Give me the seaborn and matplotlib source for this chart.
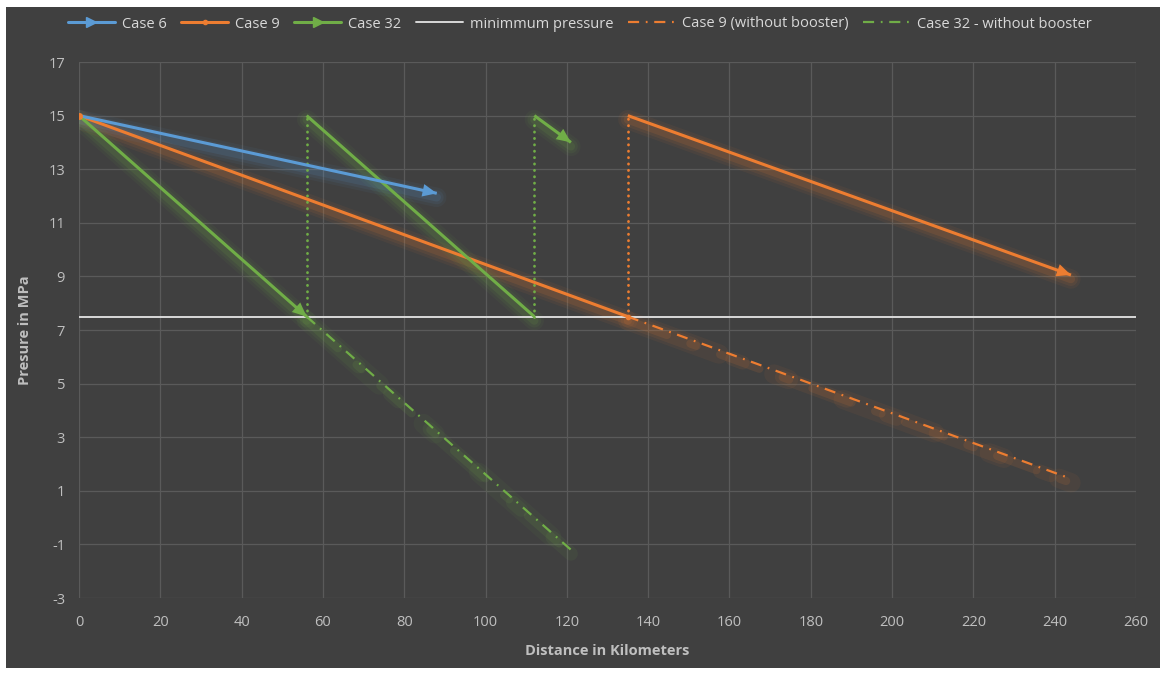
import matplotlib
matplotlib.use("Agg")
import matplotlib.pyplot as plt
import seaborn as sns
import pandas as pd
from matplotlib.patches import Rectangle
from matplotlib.lines import Line2D

# ---------------- data ----------------
case6_x = [0, 88]
case6_y = [15, 12.1]
case9_x = [0, 135, 135, 244]
case9_y = [15, 7.5, 15, 9.05]
case32_x = [0, 56, 56, 112, 112, 121]
case32_y = [15, 7.5, 15, 7.5, 15, 14]
minp_x = [0, 260]
minp_y = [7.5, 7.5]
case9nb_x = [135, 244]
case9nb_y = [7.5, 1.45]
case32nb_x = [56, 121]
case32nb_y = [7.5, -1.2]

x_ticks = list(range(0, 261, 20))
y_ticks = list(range(-3, 18, 2))

BLUE = "#5b9bd5"
ORANGE = "#ed7d31"
GREEN = "#70ad47"
WHITE = "#d9d9d9"
BG = "#404040"
GRID = "#5a5a5a"
TXT = "#bfbfbf"

sns.set_theme(style="dark")
plt.rcParams["font.family"] = ["Open Sans", "DejaVu Sans"]

fig = plt.figure(figsize=(11.6, 6.74), dpi=100, facecolor="white")
fig.patches.append(Rectangle((6 / 1160, 6 / 674), 1 - 6 / 1160, 1 - 13 / 674,
                             transform=fig.transFigure, facecolor=BG,
                             edgecolor="none", zorder=-10))
ax = fig.add_axes([79 / 1160, 1 - 598 / 674, (1136 - 79) / 1160, (598 - 62) / 674])
ax.set_facecolor(BG)


def glow(xs, ys, color, ls="-"):
    for lw, a in [(14, 0.06), (10, 0.08), (6, 0.12)]:
        sns.lineplot(x=xs, y=[v - 0.15 for v in ys], ax=ax, color=color, lw=lw,
                     alpha=a, linestyle=ls, sort=False, estimator=None,
                     solid_capstyle="round", dash_capstyle="round", zorder=2)


def series(xs, ys, color, arrow_ends=(), lw=2.2):
    for i in range(len(xs) - 1):
        sx, sy = xs[i:i + 2], ys[i:i + 2]
        if sx[0] == sx[1]:
            sns.lineplot(x=sx, y=sy, ax=ax, color=color, lw=2.0,
                         linestyle=(0, (0.1, 2.2)), sort=False, estimator=None,
                         dash_capstyle="round", zorder=3)
        else:
            glow(sx, sy, color)
            sns.lineplot(x=sx, y=sy, ax=ax, color=color, lw=lw, sort=False,
                         estimator=None, solid_capstyle="butt", zorder=4)
    for i in arrow_ends:
        ax.annotate("", xy=(xs[i], ys[i]), xytext=(xs[i - 1], ys[i - 1]),
                    arrowprops=dict(arrowstyle="-|>,head_length=0.85,head_width=0.38",
                                    color=color, lw=0, shrinkA=0, shrinkB=0),
                    zorder=5)


def dashdot(xs, ys, color):
    dd = (0, (5, 3, 0.8, 3))
    glow(xs, ys, color, ls=dd)
    sns.lineplot(x=xs, y=ys, ax=ax, color=color, lw=1.6, linestyle=dd,
                 sort=False, estimator=None, zorder=4)


sns.lineplot(x=minp_x, y=minp_y, ax=ax, color=WHITE, lw=1.4, sort=False,
             estimator=None, zorder=3)
dashdot(case9nb_x, case9nb_y, ORANGE)
dashdot(case32nb_x, case32nb_y, GREEN)
series(case9_x, case9_y, ORANGE, arrow_ends=(3,))
series(case32_x, case32_y, GREEN, arrow_ends=(1, 5))
series(case6_x, case6_y, BLUE, arrow_ends=(1,))
ax.plot(case9_x[0], case9_y[0], "o", color=ORANGE, ms=4, zorder=6)
ax.plot(case9_x[1], case9_y[1], "o", color=ORANGE, ms=3, zorder=6)

ax.set_xlim(0, 260)
ax.set_ylim(-3, 17)
ax.set_xticks(x_ticks)
ax.set_yticks(y_ticks)
ax.set_xticklabels([str(v) for v in x_ticks], color=TXT, fontsize=10.5)
ax.set_yticklabels([str(v) for v in y_ticks], color=TXT, fontsize=10.5)
ax.tick_params(axis="both", length=0, pad=10)
ax.tick_params(axis="x", pad=12)
ax.grid(True, color=GRID, lw=0.9)
for s in ax.spines.values():
    s.set_visible(False)
ax.set_xlabel("Distance in Kilometers", color=TXT, fontsize=10.5,
              fontweight="bold", labelpad=10)
ax.set_ylabel("Presure in MPa", color=TXT, fontsize=10.5, fontweight="bold",
              labelpad=12)

handles = [
    Line2D([0, 0.5, 1], [0, 0, 0], color=BLUE, lw=2.2, marker=">", markevery=[2], ms=7),
    Line2D([0, 0.5, 1], [0, 0, 0], color=ORANGE, lw=2.2, marker="o", markevery=[1], ms=3),
    Line2D([0, 0.5, 1], [0, 0, 0], color=GREEN, lw=2.2, marker=">", markevery=[2], ms=7),
    Line2D([], [], color=WHITE, lw=1.4),
    Line2D([], [], color=ORANGE, lw=1.6, linestyle=(0, (5, 3, 0.8, 3))),
    Line2D([], [], color=GREEN, lw=1.6, linestyle=(0, (5, 3, 0.8, 3))),
]
labels = ["Case 6", "Case 9", "Case 32", "minimmum pressure",
          "Case 9 (without booster)", "Case 32 - without booster"]
leg = fig.legend(handles, labels, loc="center", bbox_to_anchor=(0.5, 1 - 24 / 674),
                 ncol=6, frameon=False, fontsize=10.5, labelcolor=WHITE,
                 handlelength=3.2, handletextpad=0.5, columnspacing=1.0)

fig.savefig("out.png", dpi=100, facecolor="white")
